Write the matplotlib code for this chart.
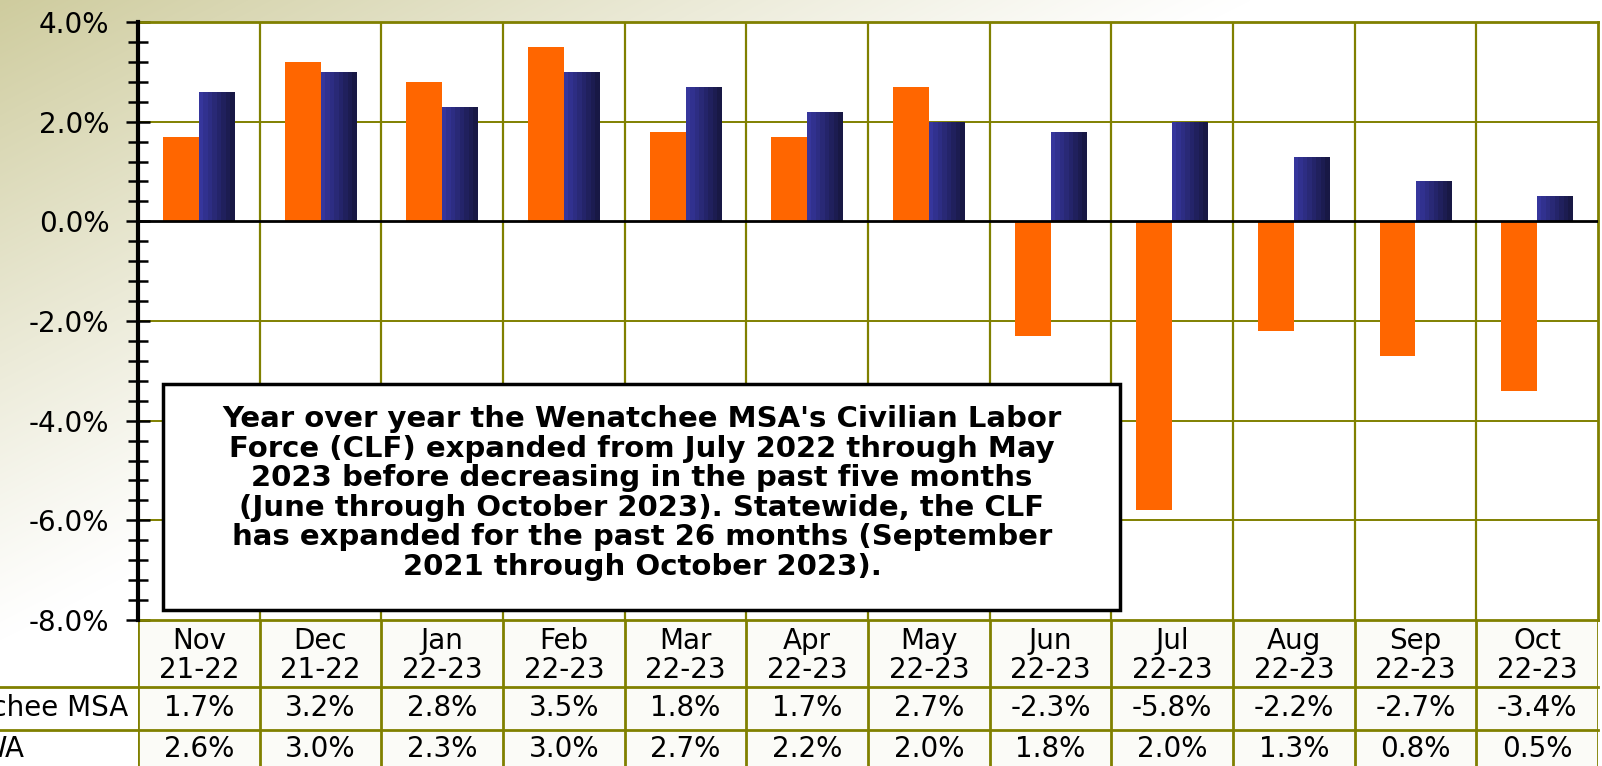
import numpy as np
import matplotlib.pyplot as plt
from matplotlib.patches import Rectangle
from matplotlib.colors import LinearSegmentedColormap
from matplotlib.ticker import MultipleLocator, FuncFormatter

# Data
months = ['Nov', 'Dec', 'Jan', 'Feb', 'Mar', 'Apr', 'May', 'Jun', 'Jul', 'Aug', 'Sep', 'Oct']
periods = ['21-22', '21-22', '22-23', '22-23', '22-23', '22-23', '22-23',
           '22-23', '22-23', '22-23', '22-23', '22-23']
msa = [1.7, 3.2, 2.8, 3.5, 1.8, 1.7, 2.7, -2.3, -5.8, -2.2, -2.7, -3.4]
wa = [2.6, 3.0, 2.3, 3.0, 2.7, 2.2, 2.0, 1.8, 2.0, 1.3, 0.8, 0.5]
row_names = ['Wenatchee MSA', 'WA']
note_lines = [
    "Year over year the Wenatchee MSA's Civilian Labor",
    "Force (CLF) expanded from July 2022 through May",
    "2023 before decreasing in the past five months",
    "(June through October 2023). Statewide, the CLF",
    "has expanded for the past 26 months (September",
    "2021 through October 2023).",
]

plt.rcParams['font.family'] = ['DejaVu Sans']
olive = '#808000'
orange = '#ff6600'
W, H = 1602, 766
fs = 20

fig = plt.figure(figsize=(W / 100, H / 100), dpi=100)


def px_box(x0, y0, x1, y1):
    # pixel box measured from top-left -> figure rect
    return [x0 / W, 1 - y1 / H, (x1 - x0) / W, (y1 - y0) / H]


# background gradient (olive-tan top-left fading to white)
bg = fig.add_axes([0, 0, 1, 1], zorder=0)
yy, xx = np.mgrid[0:H, 0:W]
t = np.clip(xx / 1250 + yy / 640, 0, 1)
tan = np.array([0.81, 0.80, 0.62])
img = 1 - (1 - tan) * ((1 - t) ** 1.1)[..., None]
bg.imshow(img, aspect='auto', extent=[0, 1, 0, 1])
bg.axis('off')

# main chart
ax = fig.add_axes(px_box(138, 22, 1598, 620), zorder=2)
ax.set_facecolor('white')
x = np.arange(len(months)) + 0.5
bw = 0.295
ax.bar(x - bw / 2, msa, bw, color=orange, zorder=3)
blue_bars = ax.bar(x + bw / 2, wa, bw, color='none', zorder=3)
blue_cmap = LinearSegmentedColormap.from_list('b', ['#36369c', '#181845'])
for b in blue_bars:
    x0, y0 = b.get_xy()
    im = ax.imshow(np.linspace(0, 1, 8).reshape(1, -1), cmap=blue_cmap,
                   aspect='auto', interpolation='nearest', zorder=3,
                   extent=[x0, x0 + b.get_width(), y0, y0 + b.get_height()])
    im.set_clip_path(b)

ax.set_xlim(0, 12)
ax.set_ylim(-8, 4)
for k in range(1, 12):
    ax.axvline(k, color=olive, lw=1.6, zorder=1)
for v in [2, -2, -4, -6]:
    ax.axhline(v, color=olive, lw=1.4, zorder=1)
ax.axhline(0, color='black', lw=2, zorder=4)

for s in ['top', 'right', 'bottom']:
    ax.spines[s].set_color(olive)
    ax.spines[s].set_linewidth(2)
ax.spines['left'].set_color('black')
ax.spines['left'].set_linewidth(3)
ax.spines['left'].set_zorder(5)

ax.set_xticks([])
ax.yaxis.set_major_locator(MultipleLocator(2))
ax.yaxis.set_minor_locator(MultipleLocator(0.4))
ax.yaxis.set_major_formatter(FuncFormatter(lambda v, p: f'{v:.1f}%'))
ax.tick_params(axis='y', which='major', direction='inout', length=17, width=1.8,
               labelsize=fs, pad=12)
ax.tick_params(axis='y', which='minor', direction='inout', length=15, width=1.8)

# note box
fig.add_artist(Rectangle((163 / W, 1 - 610 / H), (1120 - 163) / W, (610 - 384) / H,
                         transform=fig.transFigure, facecolor='white',
                         edgecolor='black', lw=2.5, zorder=6))
for i, line in enumerate(note_lines):
    fig.text(642 / W, 1 - (419 + 29.6 * i) / H, line, ha='center', va='center',
             fontsize=21, fontweight='bold', zorder=7)

# data table
tab = fig.add_axes(px_box(138, 620, 1598, 766), zorder=1)
tab.set_xlim(0, 12)
tab.set_ylim(146, 0)
tab.set_facecolor('#fbfbf7')
for s in tab.spines.values():
    s.set_visible(False)
tab.set_xticks([])
tab.set_yticks([])
for k in range(13):
    tab.axvline(k, color=olive, lw=2)
for yl in [67, 110]:
    tab.plot([-1.2, 12], [yl, yl], color=olive, lw=2, clip_on=False)

for i in range(len(months)):
    tab.text(x[i], 21, months[i], ha='center', va='center', fontsize=fs)
    tab.text(x[i], 50, periods[i], ha='center', va='center', fontsize=fs)
    tab.text(x[i], 88, f'{msa[i]:.1f}%', ha='center', va='center', fontsize=fs)
    tab.text(x[i], 129, f'{wa[i]:.1f}%', ha='center', va='center', fontsize=fs)

tab.text(-0.08, 88, row_names[0], ha='right', va='center', fontsize=fs, clip_on=False)
tab.text(-0.94, 129, row_names[1], ha='right', va='center', fontsize=fs, clip_on=False)

fig.savefig('out.png', dpi=100)
